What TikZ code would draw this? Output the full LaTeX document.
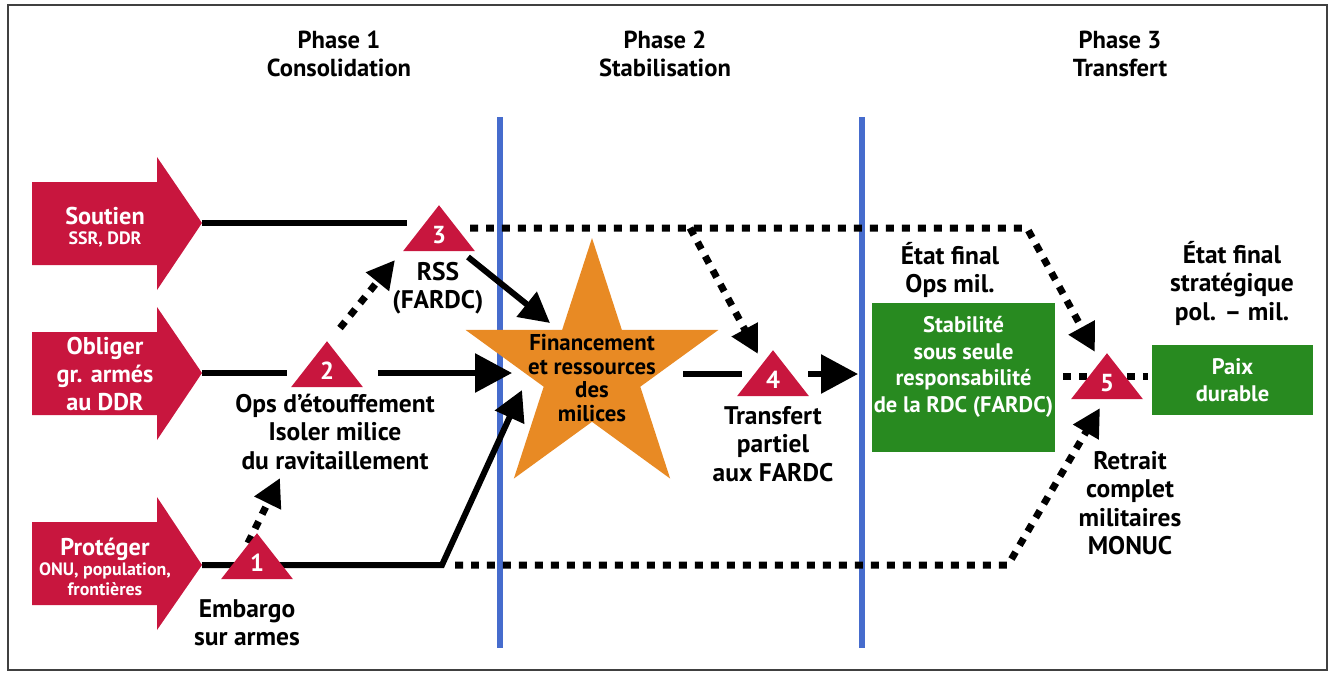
\documentclass[tikz,border=0pt]{standalone}
\usepackage{fontspec}
\setmainfont{PT Sans}
\usetikzlibrary{arrows.meta, shapes.geometric, positioning}

\definecolor{rdcred}{RGB}{200,22,62}
\definecolor{starorange}{RGB}{232,138,36}
\definecolor{endgreen}{RGB}{40,138,32}
\definecolor{phaseblue}{RGB}{70,108,205}

\tikzset{
  solidline/.style={line width=0.12cm},
  dotline/.style={line width=0.14cm, dash pattern=on 0.16cm off 0.16cm},
  bigtip/.style={-{Triangle[length=0.74cm,width=0.76cm]}},
  smalltip/.style={-{Triangle[length=0.56cm,width=0.56cm]}},
  numtri/.style={isosceles triangle, isosceles triangle stretches, shape border rotate=90,
    minimum width=1.44cm, minimum height=0.92cm, inner sep=0pt, fill=rdcred, text=white,
    font=\bfseries\fontsize{14}{16}\selectfont},
  lbl/.style={align=center, font=\bfseries\fontsize{14.5}{16.2}\selectfont},
  phasetitle/.style={align=center, font=\bfseries\fontsize{14}{16}\selectfont},
  armtxt/.style={align=center, text=white, font=\bfseries\fontsize{10.2}{11.5}\selectfont},
  greenbox/.style={fill=endgreen, inner sep=0pt},
  boxtxt/.style={align=center, text=white, font=\bfseries\fontsize{12.8}{15.2}\selectfont}
}

\begin{document}
\begin{tikzpicture}[x=0.02cm, y=-0.02cm]
\useasboundingbox (0,0) rectangle (1330,673);
\draw[black!75, line width=1.2pt] (8,5) rectangle (1327,670);

% phases
\node[phasetitle] (phase1) at (339,54) {Phase 1\\Consolidation};
\node[phasetitle] (phase2) at (665,54) {Phase 2\\Stabilisation};
\node[phasetitle] (phase3) at (1120,54) {Phase 3\\Transfert};
\draw[phaseblue, line width=0.12cm] (500,117) -- (500,648);
\draw[phaseblue, line width=0.12cm] (862,117) -- (862,648);

% lines of effort
\fill[rdcred] (32,182) -- (157,182) -- (157,157) -- (202,223) -- (157,290) -- (157,265) -- (32,265) -- cycle;
\coordinate (soutien) at (202,223);
\node[armtxt] (soutientxt) at (105,227) {{\fontsize{13.8}{15}\selectfont Soutien}\\SSR, DDR};
\fill[rdcred] (32,332) -- (157,332) -- (157,307) -- (202,373) -- (157,440) -- (157,415) -- (32,415) -- cycle;
\coordinate (obliger) at (202,373);
\node[armtxt, font=\bfseries\fontsize{13.8}{16}\selectfont] (obligertxt) at (105,374) {Obliger\\gr. armés\\au DDR};
\fill[rdcred] (32,522) -- (157,522) -- (157,497) -- (202,565) -- (157,630) -- (157,605) -- (32,605) -- cycle;
\coordinate (proteger) at (202,565);
\node[armtxt] (protegertxt) at (105,567) {{\fontsize{13.8}{15}\selectfont Protéger}\\ONU, population,\\frontières};

% centre de gravite
\node[star, star points=5, star point ratio=2.618, minimum size=5.32cm, inner sep=0pt, fill=starorange] (milices) at (592,371) {};
\node[align=center, font=\bfseries\fontsize{13}{13.4}\selectfont] (milicestxt) at (592,378) {Financement\\et ressources\\des\\milices};

% etats finaux
\node[greenbox, minimum width=3.66cm, minimum height=2.98cm] (stabilite) at (963.5,377.5) {};
\node[boxtxt] (stabilitetxt) at (963.5,367) {Stabilité\\sous seule\\responsabilité\\de la RDC (FARDC)};
\node[greenbox, boxtxt, minimum width=3.22cm, minimum height=1.42cm] (paix) at (1232.5,380) {Paix\\durable};

% jalons
\coordinate (coude) at (442,565);
\coordinate (bas) at (1008,565);
\coordinate (haut) at (1027,228);
\coordinate (branche) at (690,228);

\draw[solidline] (soutien) -- (407,223);
\draw[solidline] (obliger) -- (287,373);
\draw[solidline, bigtip] (378,373) -- (512,373);
\draw[solidline, line join=miter, -{Triangle[length=0.6cm,width=0.62cm]}] (proteger) -- (coude) -- (522,390);
\draw[solidline, -{Triangle[length=0.6cm,width=0.62cm]}] (468,257) -- (550,323);
\draw[solidline] (683,374) -- (742,374);
\draw[solidline, bigtip] (808,374) -- (858,374);

\draw[dotline, smalltip] (470,228) -- (haut) -- (1095,352);
\draw[dotline, smalltip] (branche) -- (758,354);
\draw[dotline, smalltip] (340,328) -- (395,260);
\draw[dotline, smalltip] (248,543) -- (280,478);
\draw[dotline, smalltip] (455,565) -- (bas) -- (1100,408);
\draw[dotline] (1063,376) -- (1148,376);

\node[numtri] (t1) at (257,563) {1};
\node[numtri] (t2) at (327,371) {2};
\node[numtri] (t3) at (439,235) {3};
\node[numtri] (t4) at (773,380) {4};
\node[numtri] (t5) at (1107,383) {5};

% labels
\node[lbl] (rss) at (438,288) {RSS\\(FARDC)};
\node[lbl] (etouffement) at (335,432) {Ops d’étouffement\\Isoler milice\\du ravitaillement};
\node[lbl] (embargo) at (247,623) {Embargo\\sur armes};
\node[lbl] (transfert) at (773,444) {Transfert\\partiel\\aux FARDC};
\node[lbl] (finalops) at (950,270) {État final\\Ops mil.};
\node[lbl] (finalstrat) at (1232,283) {État final\\stratégique\\pol. – mil.};
\node[lbl] (retrait) at (1130,503) {Retrait\\complet\\militaires\\MONUC};
\end{tikzpicture}
\end{document}
